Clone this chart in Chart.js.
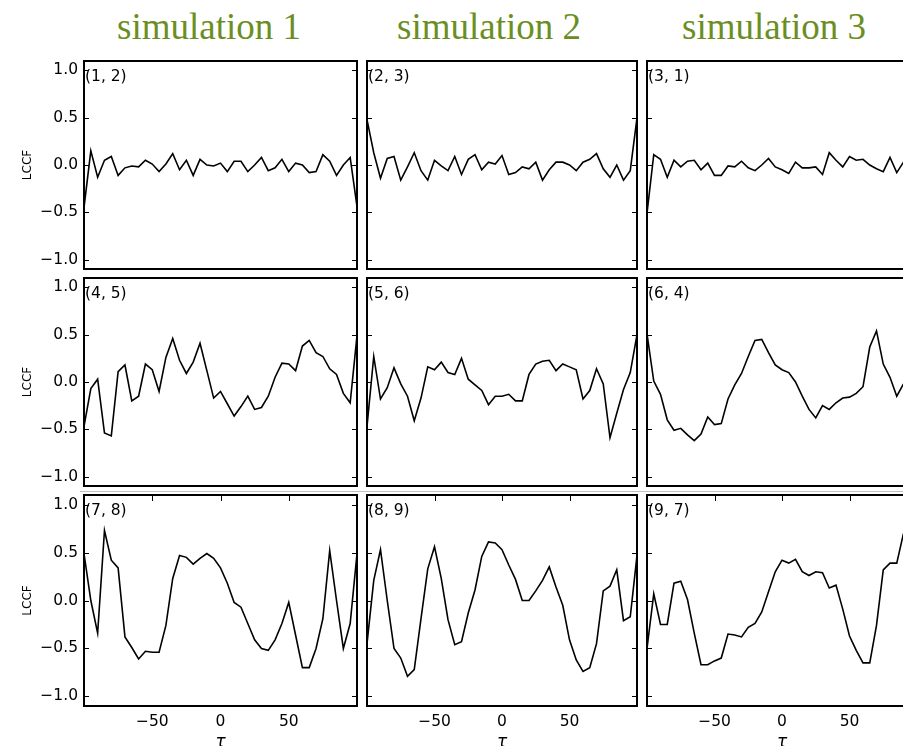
<!DOCTYPE html>
<html><head><meta charset="utf-8">
<script src="https://cdn.jsdelivr.net/npm/chart.js@4.4.0/dist/chart.umd.min.js"></script>
<style>
html,body{margin:0;padding:0;background:#fff;width:903px;height:746px;overflow:hidden;}
body{position:relative;}
canvas{position:absolute;}
.title{position:absolute;top:9px;font-family:"Liberation Serif",serif;font-size:37px;line-height:36px;color:#6b8e23;white-space:nowrap;}
.sep{position:absolute;left:80px;top:491px;width:823px;height:1px;background:#c0c0c0;}
</style>
</head><body>
<div class="sep"></div>
<script>
// ---- data ----
const tau = [-100,-95,-90,-85,-80,-75,-70,-65,-60,-55,-50,-45,-40,-35,-30,-25,-20,-15,-10,-5,0,5,10,15,20,25,30,35,40,45,50,55,60,65,70,75,80,85,90,95,100];
const simTitles = ['simulation 1','simulation 2','simulation 3'];
const pairLabels = ['(1, 2)','(2, 3)','(3, 1)','(4, 5)','(5, 6)','(6, 4)','(7, 8)','(8, 9)','(9, 7)'];
const yTickValues = [-1.0,-0.5,0.0,0.5,1.0];
const yTickLabels = ['\u22121.0','\u22120.5','0.0','0.5','1.0'];
const xTickValues = [-50,0,50];
const xTickLabels = ['\u221250','0','50'];
const yLabel = 'LCCF';
const xLabel = '\u03c4';

const lccf12 = [-0.45,0.15,-0.13,0.05,0.09,-0.11,-0.03,-0.01,-0.02,0.05,0.01,-0.07,0.01,0.12,-0.05,0.05,-0.11,0.06,0.0,-0.01,0.02,-0.07,0.04,0.04,-0.07,0.0,0.08,-0.06,-0.03,0.06,-0.07,0.02,0.0,-0.08,-0.07,0.11,0.04,-0.11,0.0,0.08,-0.44];
const lccf23 = [0.48,0.13,-0.14,0.07,0.09,-0.16,-0.02,0.13,-0.06,-0.16,0.05,-0.01,-0.06,0.09,-0.10,0.06,0.11,-0.05,0.03,0.01,0.10,-0.10,-0.08,-0.02,-0.04,0.03,-0.16,-0.05,0.03,0.03,0.0,-0.06,0.03,0.06,0.12,-0.04,-0.13,0.0,-0.16,-0.06,0.50];
const lccf31 = [-0.51,0.11,0.06,-0.13,0.05,-0.02,0.04,0.05,-0.05,0.02,-0.11,-0.11,-0.01,-0.02,0.04,-0.03,-0.06,0.0,0.07,-0.02,-0.05,-0.09,0.03,-0.03,-0.03,-0.02,-0.10,0.13,0.05,-0.02,0.09,0.05,0.06,0.0,-0.04,-0.07,0.08,-0.08,0.03];
const lccf45 = [-0.47,-0.07,0.03,-0.54,-0.57,0.11,0.18,-0.20,-0.15,0.19,0.13,-0.10,0.26,0.46,0.23,0.09,0.21,0.41,0.12,-0.17,-0.10,-0.23,-0.36,-0.26,-0.15,-0.29,-0.27,-0.15,0.05,0.20,0.19,0.12,0.38,0.44,0.31,0.27,0.14,0.08,-0.12,-0.22,0.49];
const lccf56 = [-0.47,0.27,-0.18,-0.06,0.15,-0.02,-0.15,-0.41,-0.17,0.16,0.13,0.21,0.10,0.08,0.25,0.03,-0.03,-0.09,-0.24,-0.15,-0.15,-0.13,-0.20,-0.20,0.08,0.19,0.22,0.23,0.12,0.19,0.16,0.13,-0.18,-0.09,0.14,-0.02,-0.59,-0.33,-0.08,0.10,0.50];
const lccf64 = [0.51,0.01,-0.13,-0.40,-0.51,-0.49,-0.56,-0.62,-0.55,-0.37,-0.45,-0.44,-0.18,-0.03,0.09,0.27,0.44,0.45,0.31,0.18,0.13,0.10,0.0,-0.15,-0.29,-0.38,-0.25,-0.29,-0.22,-0.17,-0.16,-0.12,-0.05,0.37,0.54,0.19,0.05,-0.15,-0.02];
const lccf78 = [0.49,0.0,-0.34,0.73,0.42,0.34,-0.38,-0.49,-0.61,-0.53,-0.54,-0.54,-0.26,0.23,0.47,0.45,0.38,0.44,0.49,0.44,0.34,0.18,-0.02,-0.07,-0.24,-0.41,-0.50,-0.52,-0.41,-0.24,-0.02,-0.36,-0.70,-0.70,-0.50,-0.19,0.52,0.0,-0.50,-0.24,0.49];
const lccf89 = [-0.45,0.21,0.53,0.0,-0.50,-0.60,-0.79,-0.72,-0.19,0.33,0.56,0.23,-0.20,-0.46,-0.43,-0.13,0.11,0.46,0.61,0.60,0.53,0.37,0.22,0.0,0.0,0.10,0.21,0.35,0.14,-0.05,-0.41,-0.62,-0.74,-0.70,-0.45,0.10,0.15,0.32,-0.21,-0.17,0.47];
const lccf97 = [-0.50,0.07,-0.25,-0.25,0.18,0.20,0.01,-0.34,-0.67,-0.67,-0.63,-0.60,-0.35,-0.36,-0.38,-0.28,-0.24,-0.12,0.09,0.30,0.42,0.39,0.43,0.30,0.26,0.30,0.29,0.13,0.16,-0.09,-0.37,-0.52,-0.65,-0.65,-0.26,0.32,0.39,0.39,0.70];
const panelSeries = [lccf12,lccf23,lccf31,lccf45,lccf56,lccf64,lccf78,lccf89,lccf97];

// ---- layout ----
const colLefts = [84,364,644];
const rowTops = [61,278,495];
const boxW = 273, boxH = 211;
const titleLefts = [117,397,682];

simTitles.forEach((t,i)=>{
  const d = document.createElement('div');
  d.className='title'; d.textContent=t; d.style.left=titleLefts[i]+'px';
  document.body.appendChild(d);
});

const panelBox = {
  id:'panelBox',
  afterDraw(chart, args, opts){
    const {ctx, chartArea:{left,right,top,bottom}, scales:{x,y}} = chart;
    ctx.save();
    ctx.strokeStyle='#000'; ctx.lineWidth=1;
    yTickValues.forEach(v=>{
      const py = Math.round(y.getPixelForValue(v))+0.5;
      ctx.beginPath();
      ctx.moveTo(left,py); ctx.lineTo(left+5,py);
      ctx.moveTo(right,py); ctx.lineTo(right-5,py);
      ctx.stroke();
    });
    if (opts.xTicks){
      xTickValues.forEach(v=>{
        const px = Math.round(x.getPixelForValue(v))+0.5;
        ctx.beginPath(); ctx.moveTo(px,top); ctx.lineTo(px,top+6); ctx.stroke();
      });
    }
    ctx.lineWidth=2;
    ctx.strokeRect(left,top,right-left,bottom-top);
    ctx.fillStyle='#000';
    ctx.font='15.5px "DejaVu Sans"';
    ctx.textBaseline='middle'; ctx.textAlign='left';
    ctx.fillText(opts.label, left+1, top+16);
    ctx.restore();
  }
};

panelSeries.forEach((series, idx)=>{
  const row = Math.floor(idx/3), col = idx%3;
  const padL = col===0 ? 84 : 3, padT = 3, padR = 3, padB = row===2 ? 55 : 3;
  const cv = document.createElement('canvas');
  cv.width = boxW + padL + padR; cv.height = boxH + padT + padB;
  cv.style.left = (colLefts[col]-padL)+'px';
  cv.style.top = (rowTops[row]-padT)+'px';
  document.body.appendChild(cv);
  new Chart(cv, {
    type:'line',
    data:{datasets:[{
      data: series.map((v,i)=>({x:tau[i], y:v})),
      borderColor:'#000', borderWidth:1.6, pointRadius:0, tension:0, fill:false
    }]},
    options:{
      responsive:false, animation:false, events:[],
      layout:{padding:{left: col===0?0:3, right:3, top:3, bottom: row===2?0:3}},
      plugins:{legend:{display:false}, tooltip:{enabled:false}, panelBox:{label: pairLabels[idx], xTicks: row===2}},
      scales:{
        x:{type:'linear', min:-100, max:100, display: row===2,
          grid:{display:false, drawTicks:false}, border:{display:false},
          afterBuildTicks: s=>{ s.ticks = xTickValues.map(v=>({value:v})); },
          ticks:{callback:(v,i)=>xTickLabels[i], font:{family:'DejaVu Sans', size:15.5}, color:'#000', padding:7, maxRotation:0, autoSkip:false},
          title:{display:true, text:xLabel, font:{family:'DejaVu Sans', size:17, style:'italic'}, color:'#000', padding:{top:0,bottom:8}},
          afterFit: s=>{ s.height = padB; s.paddingLeft = 0; s.paddingRight = 0; }
        },
        y:{type:'linear', min:-1.1, max:1.1, display: col===0,
          grid:{display:false, drawTicks:false}, border:{display:false},
          afterBuildTicks: s=>{ s.ticks = yTickValues.map(v=>({value:v})); },
          ticks:{callback:(v,i)=>yTickLabels[i], font:{family:'DejaVu Sans', size:15.5}, color:'#000', padding:6, autoSkip:false},
          title:{display:true, text:yLabel, font:{family:'DejaVu Sans', size:12}, color:'#000', padding:{top:21,bottom:0}},
          afterFit: s=>{ s.width = padL; s.paddingTop = 0; s.paddingBottom = 0; }
        }
      }
    },
    plugins:[panelBox]
  });
});
</script>
</body></html>
